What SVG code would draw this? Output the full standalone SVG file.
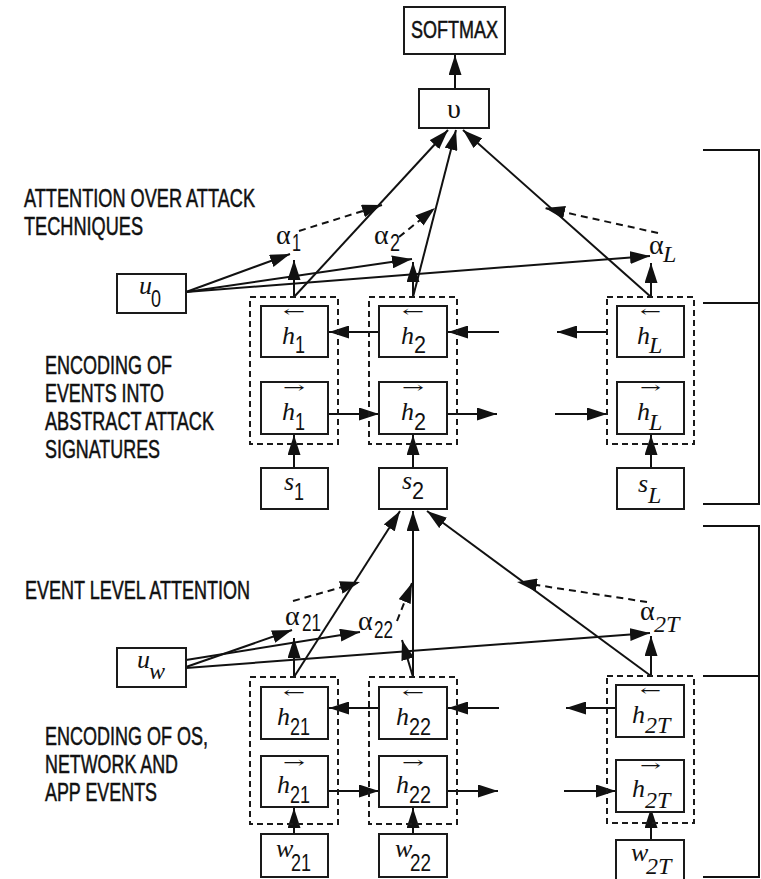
<svg xmlns="http://www.w3.org/2000/svg" width="761" height="879" viewBox="0 0 761 879">
<style>
.box{fill:#fff;stroke:#1a1a1a;stroke-width:2}
.dbox{fill:none;stroke:#1a1a1a;stroke-width:2;stroke-dasharray:6 4}
.ln{fill:none;stroke:#111;stroke-width:2;marker-end:url(#ah)}
.dl{fill:none;stroke:#111;stroke-width:2;stroke-dasharray:7 5;marker-end:url(#ah)}
.br{fill:none;stroke:#111;stroke-width:2}
.lbl{font-family:"Liberation Sans",Arial,sans-serif;font-size:25px;fill:#111;stroke:#111;stroke-width:0.5}
.m{font-family:"Liberation Serif","DejaVu Serif",serif;font-style:italic;font-size:26px;fill:#111}
.g{font-family:"Liberation Serif","DejaVu Serif",serif;font-size:28px;fill:#111}
.d{font-family:"Liberation Sans",Arial,sans-serif;font-size:24px;fill:#111}
.si{font-family:"Liberation Serif","DejaVu Serif",serif;font-style:italic;font-size:24px;fill:#111}
.ar{font-family:"DejaVu Serif","Liberation Serif",serif;font-size:16px;fill:#111}
</style>
<defs>
<marker id="ah" markerUnits="userSpaceOnUse" markerWidth="20" markerHeight="13" viewBox="0 0 20 13" refX="20" refY="6.5" orient="auto">
<path d="M0,0 L20,6.5 L0,13 z" fill="#111"/>
</marker>
</defs>

<g id="labels">
<text class="lbl" x="24" y="207" textLength="231" lengthAdjust="spacingAndGlyphs">ATTENTION OVER ATTACK</text>
<text class="lbl" x="24" y="235" textLength="119" lengthAdjust="spacingAndGlyphs">TECHNIQUES</text>
<text class="lbl" x="45" y="374" textLength="127" lengthAdjust="spacingAndGlyphs">ENCODING OF</text>
<text class="lbl" x="45" y="402" textLength="119" lengthAdjust="spacingAndGlyphs">EVENTS INTO</text>
<text class="lbl" x="45" y="430" textLength="169" lengthAdjust="spacingAndGlyphs">ABSTRACT ATTACK</text>
<text class="lbl" x="45" y="458" textLength="115" lengthAdjust="spacingAndGlyphs">SIGNATURES</text>
<text class="lbl" x="25" y="599" textLength="225" lengthAdjust="spacingAndGlyphs">EVENT LEVEL ATTENTION</text>
<text class="lbl" x="45" y="745" textLength="163" lengthAdjust="spacingAndGlyphs">ENCODING OF OS,</text>
<text class="lbl" x="45" y="773" textLength="133" lengthAdjust="spacingAndGlyphs">NETWORK AND</text>
<text class="lbl" x="45" y="801" textLength="112" lengthAdjust="spacingAndGlyphs">APP EVENTS</text>
</g>

<g id="brackets">
<path class="br" d="M703,150 H759 V504 H703 M703,303 H759"/>
<path class="br" d="M703,526 H759 V877 H703 M703,676 H759"/>
</g>

<g id="connectors">
<line class="ln" x1="455" y1="89" x2="455" y2="55"/>
<line class="ln" x1="294" y1="297" x2="448" y2="130"/>
<line class="ln" x1="413" y1="297" x2="456" y2="130"/>
<line class="ln" x1="651" y1="297" x2="463" y2="130"/>
<line class="ln" x1="186" y1="292" x2="290" y2="254"/>
<line class="ln" x1="186" y1="292" x2="412" y2="259"/>
<line class="ln" x1="186" y1="292" x2="650" y2="256"/>
<line class="ln" x1="294" y1="297" x2="294" y2="260"/>
<line class="ln" x1="413" y1="297" x2="413" y2="262"/>
<line class="ln" x1="651" y1="297" x2="651" y2="263"/>
<line class="dl" x1="299" y1="231" x2="382" y2="205"/>
<line class="dl" x1="399" y1="237" x2="435" y2="208"/>
<line class="dl" x1="658" y1="233" x2="545" y2="208"/>
<line class="ln" x1="379" y1="332" x2="329" y2="332"/>
<line class="ln" x1="499" y1="332" x2="448" y2="332"/>
<line class="ln" x1="607" y1="332" x2="557" y2="332"/>
<line class="ln" x1="328" y1="414" x2="379" y2="414"/>
<line class="ln" x1="447" y1="414" x2="497" y2="414"/>
<line class="ln" x1="555" y1="414" x2="607" y2="414"/>
<line class="ln" x1="294" y1="468" x2="294" y2="435"/>
<line class="ln" x1="413" y1="468" x2="413" y2="435"/>
<line class="ln" x1="651" y1="468" x2="651" y2="435"/>
<line class="ln" x1="294" y1="677" x2="400" y2="511"/>
<line class="ln" x1="413" y1="677" x2="413" y2="511"/>
<line class="ln" x1="651" y1="676" x2="427" y2="511"/>
<line class="ln" x1="186" y1="667" x2="292" y2="630"/>
<line class="ln" x1="186" y1="660" x2="360" y2="632"/>
<line class="ln" x1="186" y1="668" x2="650" y2="633"/>
<line class="ln" x1="294" y1="677" x2="294" y2="638"/>
<line class="ln" x1="413" y1="677" x2="402" y2="640"/>
<line class="ln" x1="651" y1="676" x2="651" y2="636"/>
<line class="dl" x1="293" y1="601" x2="360" y2="582"/>
<line class="dl" x1="397" y1="621" x2="412" y2="583"/>
<line class="dl" x1="647" y1="602" x2="517" y2="582"/>
<line class="ln" x1="379" y1="708" x2="329" y2="708"/>
<line class="ln" x1="499" y1="708" x2="448" y2="708"/>
<line class="ln" x1="616" y1="708" x2="566" y2="708"/>
<line class="ln" x1="328" y1="791" x2="379" y2="791"/>
<line class="ln" x1="447" y1="791" x2="498" y2="791"/>
<line class="ln" x1="564" y1="791" x2="616" y2="791"/>
<line class="ln" x1="294" y1="834" x2="294" y2="808"/>
<line class="ln" x1="413" y1="834" x2="413" y2="808"/>
<line class="ln" x1="651" y1="840" x2="651" y2="808"/>
</g>

<g id="softmax"><rect class="box" x="404" y="7" width="101" height="47"/>
<text class="lbl" x="411" y="38" style="font-size:23px" textLength="87" lengthAdjust="spacingAndGlyphs">SOFTMAX</text></g>
<g id="v"><rect class="box" x="419" y="89" width="70" height="39"/>
<text class="g" x="454" y="118" text-anchor="middle">υ</text></g>

<g id="u0"><rect class="box" x="117" y="274" width="69" height="39"/>
<text class="m" x="139" y="294">u</text><text class="d" x="151" y="307" textLength="10" lengthAdjust="spacingAndGlyphs">0</text></g>
<g id="uw"><rect class="box" x="117" y="648" width="69" height="39"/>
<text class="m" x="137" y="668">u</text><text class="si" x="149" y="679">w</text></g>

<g id="alpha1"><text class="g" x="276" y="244">α</text><text class="d" x="292" y="251" textLength="9" lengthAdjust="spacingAndGlyphs">1</text></g>
<g id="alpha2"><text class="g" x="374" y="244">α</text><text class="d" x="390" y="251" textLength="10" lengthAdjust="spacingAndGlyphs">2</text></g>
<g id="alphaL"><text class="g" x="649" y="254">α</text><text class="si" x="663" y="262">L</text></g>
<g id="alpha21"><text class="g" x="285" y="625">α</text><text class="d" x="302" y="631" textLength="19" lengthAdjust="spacingAndGlyphs">21</text></g>
<g id="alpha22"><text class="g" x="358" y="630">α</text><text class="d" x="374" y="638" textLength="19" lengthAdjust="spacingAndGlyphs">22</text></g>
<g id="alpha2T"><text class="g" x="640" y="620">α</text><text class="si" x="654" y="632">2T</text></g>

<g id="grp1"><rect class="dbox" x="250" y="297" width="88" height="147"/>
<g id="hb1"><rect class="box" x="261" y="306" width="67" height="51"/>
<text class="ar" x="283" y="317" textLength="22" lengthAdjust="spacingAndGlyphs">←</text>
<text class="m" x="282" y="344">h</text><text class="d" x="295" y="353" textLength="10" lengthAdjust="spacingAndGlyphs">1</text></g>
<g id="hf1"><rect class="box" x="261" y="382" width="67" height="52"/>
<text class="ar" x="283" y="393" textLength="22" lengthAdjust="spacingAndGlyphs">→</text>
<text class="m" x="282" y="420">h</text><text class="d" x="295" y="430" textLength="10" lengthAdjust="spacingAndGlyphs">1</text></g></g>

<g id="grp2"><rect class="dbox" x="369" y="297" width="88" height="147"/>
<g id="hb2"><rect class="box" x="379" y="306" width="68" height="51"/>
<text class="ar" x="402" y="317" textLength="22" lengthAdjust="spacingAndGlyphs">←</text>
<text class="m" x="401" y="344">h</text><text class="d" x="414" y="353" textLength="12" lengthAdjust="spacingAndGlyphs">2</text></g>
<g id="hf2"><rect class="box" x="379" y="382" width="68" height="52"/>
<text class="ar" x="402" y="393" textLength="22" lengthAdjust="spacingAndGlyphs">→</text>
<text class="m" x="401" y="420">h</text><text class="d" x="414" y="430" textLength="12" lengthAdjust="spacingAndGlyphs">2</text></g></g>

<g id="grpL"><rect class="dbox" x="607" y="297" width="87" height="147"/>
<g id="hbL"><rect class="box" x="617" y="306" width="67" height="51"/>
<text class="ar" x="640" y="317" textLength="21" lengthAdjust="spacingAndGlyphs">←</text>
<text class="m" x="637" y="344">h</text><text class="si" x="649" y="353">L</text></g>
<g id="hfL"><rect class="box" x="617" y="382" width="67" height="52"/>
<text class="ar" x="640" y="393" textLength="21" lengthAdjust="spacingAndGlyphs">→</text>
<text class="m" x="637" y="420">h</text><text class="si" x="649" y="430">L</text></g></g>

<g id="s1"><rect class="box" x="261" y="468" width="67" height="41"/>
<text class="m" x="284" y="490">s</text><text class="d" x="294" y="500" textLength="10" lengthAdjust="spacingAndGlyphs">1</text></g>
<g id="s2"><rect class="box" x="379" y="468" width="68" height="41"/>
<text class="m" x="402" y="489">s</text><text class="d" x="412" y="499" textLength="12" lengthAdjust="spacingAndGlyphs">2</text></g>
<g id="sL"><rect class="box" x="617" y="468" width="67" height="41"/>
<text class="m" x="638" y="492">s</text><text class="si" x="648" y="503">L</text></g>

<g id="grp21"><rect class="dbox" x="250" y="677" width="88" height="147"/>
<g id="hb21"><rect class="box" x="261" y="687" width="67" height="52"/>
<text class="ar" x="283" y="698" textLength="22" lengthAdjust="spacingAndGlyphs">←</text>
<text class="m" x="277" y="725">h</text><text class="d" x="290" y="735" textLength="20" lengthAdjust="spacingAndGlyphs">21</text></g>
<g id="hf21"><rect class="box" x="261" y="756" width="67" height="51"/>
<text class="ar" x="283" y="768" textLength="22" lengthAdjust="spacingAndGlyphs">→</text>
<text class="m" x="277" y="793">h</text><text class="d" x="290" y="803" textLength="20" lengthAdjust="spacingAndGlyphs">21</text></g></g>

<g id="grp22"><rect class="dbox" x="369" y="677" width="88" height="147"/>
<g id="hb22"><rect class="box" x="379" y="687" width="68" height="52"/>
<text class="ar" x="402" y="698" textLength="22" lengthAdjust="spacingAndGlyphs">←</text>
<text class="m" x="396" y="725">h</text><text class="d" x="409" y="735" textLength="22" lengthAdjust="spacingAndGlyphs">22</text></g>
<g id="hf22"><rect class="box" x="379" y="756" width="68" height="51"/>
<text class="ar" x="402" y="768" textLength="22" lengthAdjust="spacingAndGlyphs">→</text>
<text class="m" x="396" y="793">h</text><text class="d" x="409" y="803" textLength="22" lengthAdjust="spacingAndGlyphs">22</text></g></g>

<g id="grp2T"><rect class="dbox" x="607" y="676" width="87" height="147"/>
<g id="hb2T"><rect class="box" x="616" y="685" width="68" height="52"/>
<text class="ar" x="640" y="696" textLength="21" lengthAdjust="spacingAndGlyphs">←</text>
<text class="m" x="632" y="723">h</text><text class="si" x="645" y="733">2T</text></g>
<g id="hf2T"><rect class="box" x="616" y="760" width="68" height="52"/>
<text class="ar" x="640" y="771" textLength="21" lengthAdjust="spacingAndGlyphs">→</text>
<text class="m" x="632" y="797">h</text><text class="si" x="645" y="808">2T</text></g></g>

<g id="w21"><rect class="box" x="261" y="834" width="67" height="43"/>
<text class="m" x="276" y="857">w</text><text class="d" x="291" y="871" textLength="20" lengthAdjust="spacingAndGlyphs">21</text></g>
<g id="w22"><rect class="box" x="379" y="834" width="68" height="43"/>
<text class="m" x="395" y="857">w</text><text class="d" x="410" y="871" textLength="21" lengthAdjust="spacingAndGlyphs">22</text></g>
<g id="w2T"><rect class="box" x="616" y="840" width="68" height="45"/>
<text class="m" x="631" y="861">w</text><text class="si" x="646" y="874">2T</text></g>
</svg>
